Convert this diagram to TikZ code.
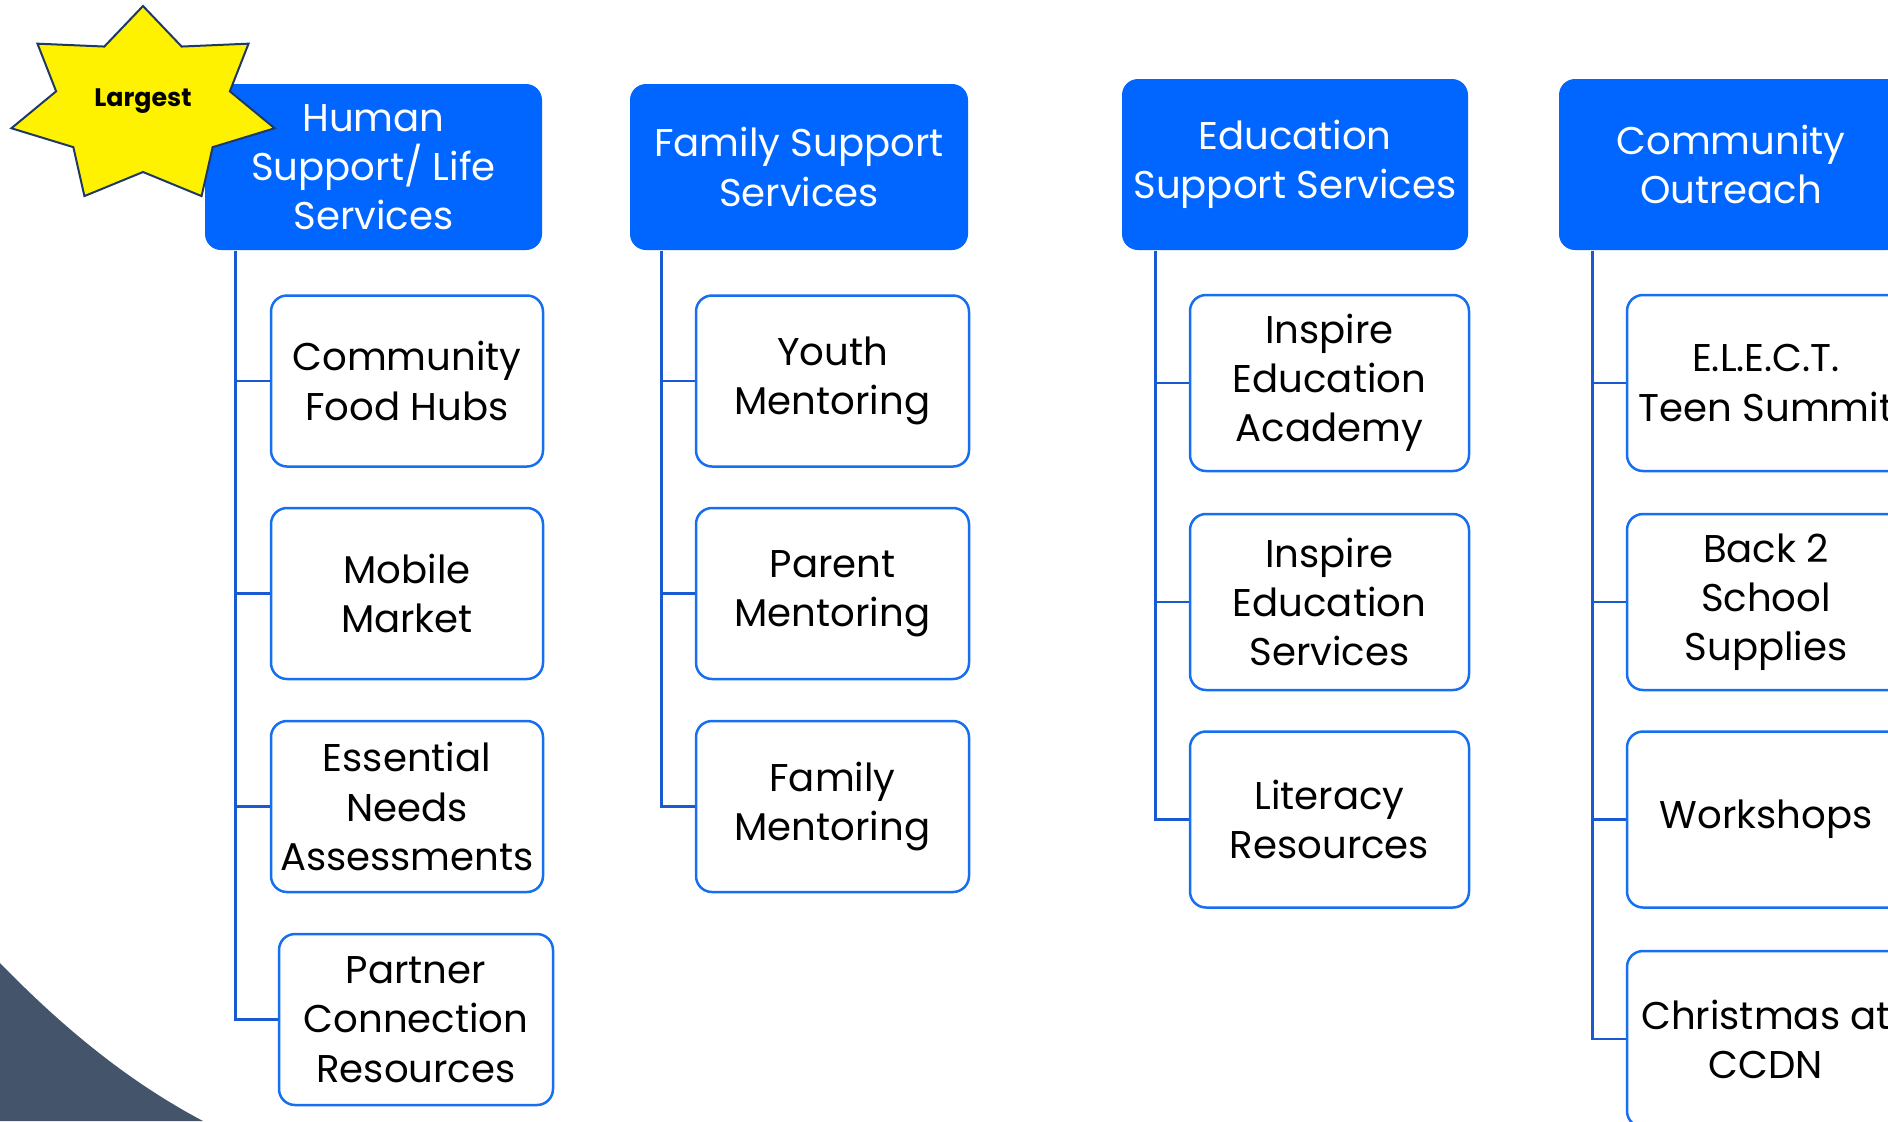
\documentclass[tikz,border=0pt]{standalone}
\usepackage{fontspec}
\setmainfont{Poppins}
\definecolor{hdrblue}{RGB}{0,102,255}
\definecolor{boxblue}{RGB}{22,110,240}
\definecolor{lineblue}{RGB}{25,90,210}
\definecolor{starnavy}{RGB}{31,56,100}
\definecolor{slate}{RGB}{68,84,106}
\tikzset{
  headbox/.style={fill=hdrblue, rounded corners=1.6mm, text=white, align=center,
    inner sep=0pt, font=\fontsize{11}{14}\selectfont},
  itembox/.style={draw=boxblue, line width=0.25mm, fill=white, rounded corners=1.6mm,
    align=center, inner sep=0pt, font=\fontsize{11}{14}\selectfont},
  treeline/.style={draw=lineblue, line width=0.27mm},
}
\begin{document}
\begin{tikzpicture}[x=0.1mm,y=-0.1mm]
  \useasboundingbox (0,0) rectangle (1888,1121);
  \clip (0,0) rectangle (1888,1121);
  \fill[slate] (0,963) .. controls (70,1035) and (135,1085) .. (203,1121) -- (0,1121) -- cycle;

  \node[headbox, minimum width=33.7mm, minimum height=16.6mm] (hum) at (373.5,167) {Human\\Support/ Life\\Services};
  \node[headbox, minimum width=33.8mm, minimum height=16.6mm] (fam) at (799,167) {Family Support\\Services};
  \node[headbox, minimum width=34.6mm, minimum height=17.1mm] (edu) at (1295,164.5) {Education\\Support Services};
  \node[headbox, minimum width=34.4mm, minimum height=17.1mm] (com) at (1731,164.5) {Community\\Outreach};

  \node[itembox, minimum width=27.2mm, minimum height=17.1mm] (food) at (407,381) {Community\\Food Hubs};
  \node[itembox, minimum width=27.2mm, minimum height=17.1mm] (mobile) at (407,593.5) {Mobile\\Market};
  \node[itembox, minimum width=27.2mm, minimum height=17.1mm] (needs) at (407,806.5) {Essential\\Needs\\Assessments};
  \node[itembox, minimum width=27.4mm, minimum height=17.1mm] (partner) at (416,1019.5) {Partner\\Connection\\Resources};

  \node[itembox, minimum width=27.3mm, minimum height=17.1mm] (youth) at (832.5,381) {Youth\\Mentoring};
  \node[itembox, minimum width=27.3mm, minimum height=17.1mm] (parent) at (832.5,593.5) {Parent\\Mentoring};
  \node[itembox, minimum width=27.3mm, minimum height=17.1mm] (family) at (832.5,806.5) {Family\\Mentoring};

  \node[itembox, minimum width=27.9mm, minimum height=17.6mm] (academy) at (1329.5,383) {Inspire\\Education\\Academy};
  \node[itembox, minimum width=27.9mm, minimum height=17.6mm] (inspire) at (1329.5,602) {Inspire\\Education\\Services};
  \node[itembox, minimum width=27.9mm, minimum height=17.6mm] (literacy) at (1329.5,819.5) {Literacy\\Resources};

  \node[itembox, minimum width=27.8mm, minimum height=17.6mm] (elect) at (1766,383) {E.L.E.C.T.\\Teen Summit};
  \node[itembox, minimum width=27.8mm, minimum height=17.6mm] (school) at (1766,602) {Back 2\\School\\Supplies};
  \node[itembox, minimum width=27.8mm, minimum height=17.6mm] (workshops) at (1766,819.5) {Workshops};
  \node[itembox, minimum width=27.8mm, minimum height=17.6mm] (xmas) at (1766,1039) {Christmas at\\CCDN};

  \coordinate (humtop) at ([xshift=3.1mm]hum.south west);
  \coordinate (famtop) at ([xshift=3.2mm]fam.south west);
  \coordinate (edutop) at ([xshift=3.4mm]edu.south west);
  \coordinate (comtop) at ([xshift=3.4mm]com.south west);

  \draw[treeline] (humtop) |- (partner.west);
  \draw[treeline] (food.west) -- (food.west -| humtop);
  \draw[treeline] (mobile.west) -- (mobile.west -| humtop);
  \draw[treeline] (needs.west) -- (needs.west -| humtop);

  \draw[treeline] (famtop) |- (family.west);
  \draw[treeline] (youth.west) -- (youth.west -| famtop);
  \draw[treeline] (parent.west) -- (parent.west -| famtop);

  \draw[treeline] (edutop) |- (literacy.west);
  \draw[treeline] (academy.west) -- (academy.west -| edutop);
  \draw[treeline] (inspire.west) -- (inspire.west -| edutop);

  \draw[treeline] (comtop) |- (xmas.west);
  \draw[treeline] (elect.west) -- (elect.west -| comtop);
  \draw[treeline] (school.west) -- (school.west -| comtop);
  \draw[treeline] (workshops.west) -- (workshops.west -| comtop);

  \begin{scope}[shift={(143,106)}]
    \filldraw[fill=yellow, draw=starnavy, line width=0.2mm, line join=miter]
      (-90:135 and 100)
      \foreach \k [evaluate=\k as \r using {mod(\k,2)==0 ? 1 : 0.66}] in {1,...,13} {
        -- ({-90+\k*180/7}:{135*\r} and {100*\r})
      } -- cycle;
  \end{scope}
  \node[font=\bfseries\fontsize{7.2}{9}\selectfont] (largest) at (143,101) {Largest};
\end{tikzpicture}
\end{document}
